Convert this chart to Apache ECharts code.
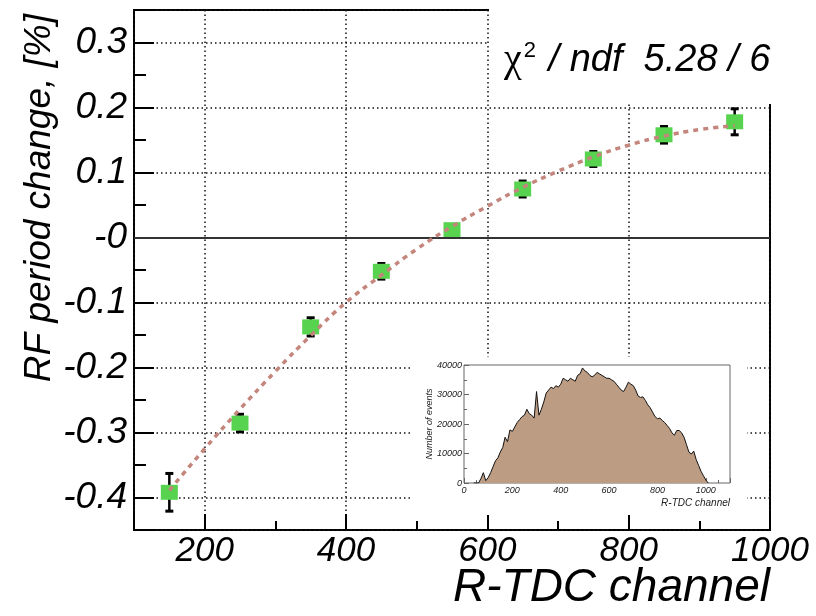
<!DOCTYPE html>
<html>
<head>
<meta charset="utf-8">
<script src="https://cdn.jsdelivr.net/npm/echarts@6/dist/echarts.min.js"></script>
<style>
  html, body { margin: 0; padding: 0; background: #fff; }
  #chart { width: 816px; height: 616px; }
</style>
</head>
<body>
<div id="chart"></div>
<script>
// RF period change measured per R-TDC channel bin
const channels = [150, 250, 350, 450, 550, 650, 750, 850, 950];
const rfChange = [-0.392, -0.2855, -0.1375, -0.052, 0.012, 0.0746, 0.1208, 0.158, 0.178];
const rfError  = [0.029, 0.0135, 0.014, 0.012, 0.005, 0.0123, 0.0115, 0.0128, 0.02];

// pol2 fit curve sampled along the channel range
const fitChannels = [150, 200, 250, 300, 350, 400, 450, 500, 550, 600, 650, 700, 750, 800, 850, 900, 950];
const fitValues   = [-0.389, -0.325, -0.264, -0.206, -0.151, -0.100, -0.058, -0.018, 0.017, 0.048,
                     0.077, 0.102, 0.124, 0.142, 0.156, 0.166, 0.172];

// R-TDC channel occupancy histogram (inset)
const histChannels = [40, 50, 60, 70, 80, 90, 100, 110, 120, 130, 140, 150, 160, 170, 180, 190,
  200, 210, 220, 230, 240, 250, 260, 270, 280, 290, 300, 310, 320, 330, 340, 350, 360, 370, 380, 390,
  400, 410, 420, 430, 440, 450, 460, 470, 480, 490, 500, 510, 520, 530, 540, 550, 560, 570, 580, 590,
  600, 610, 620, 630, 640, 650, 660, 670, 680, 690, 700, 710, 720, 730, 740, 750, 760, 770, 780, 790,
  800, 810, 820, 830, 840, 850, 860, 870, 880, 890, 900, 910, 920, 930, 940, 950, 960, 970, 980, 990,
  1000, 1010];
const histCounts = [0, 0, 0, 1500, 3500, 800, 1800, 3500, 5500, 7500, 8500, 10500, 12000, 15500, 14000, 18000,
  17500, 19000, 20500, 21500, 22500, 23000, 25000, 23500, 23000, 22000, 31000, 23000, 25000, 27500, 30500, 31500, 32500, 32000, 33000, 32500,
  33500, 35500, 35000, 34500, 35500, 35000, 34500, 36500, 37000, 39000, 38000, 37500, 36500, 36000, 36500, 37500, 37000, 36500, 36000, 35500,
  35500, 35000, 34500, 33500, 32500, 31500, 31000, 32500, 34200, 33500, 33000, 31500, 29500, 29000, 29200, 28000, 26500, 25500, 24000, 22500,
  21800, 22000, 21200, 20500, 19500, 18500, 17000, 16200, 17800, 17800, 17000, 15500, 13000, 10500, 9800, 10800, 8000, 6000, 4000, 2500,
  1000, 0];

const FONT = 'Liberation Sans';
const chart = echarts.init(document.getElementById('chart'), null, { renderer: 'canvas' });

const dotted = { color: '#111', width: 1.5, type: [1.5, 3] };

function yLabel(v) {
  const k = Math.round(v * 10);
  if (Math.abs(v * 10 - k) > 1e-6) return '';
  if (k === 0) return '-0';
  return (k / 10).toFixed(1);
}

const option = {
  animation: false,
  backgroundColor: '#fff',
  title: {
    text: '{g|χ}{s|2}{t| / ndf  5.28 / 6}',
    left: 499, top: 35, z: 30,
    textStyle: {
      fontWeight: 'normal',
      rich: {
        g: { fontFamily: 'Liberation Serif', fontSize: 40, fontWeight: 'normal', color: '#000' },
        s: { fontFamily: FONT, fontSize: 22, fontWeight: 'normal', color: '#000', verticalAlign: 'top', padding: [0, 2, 0, 2] },
        t: { fontFamily: FONT, fontSize: 38, fontStyle: 'italic', fontWeight: 'normal', color: '#000' }
      }
    }
  },
  grid: [
    { left: 134, top: 10, width: 636, height: 520, show: true, borderColor: '#000', borderWidth: 2, backgroundColor: 'transparent' },
    { left: 464, top: 365, width: 266, height: 118, show: true, borderColor: '#666', borderWidth: 1, backgroundColor: 'transparent', z: 20 }
  ],
  xAxis: [
    {
      gridIndex: 0, type: 'value', min: 100, max: 1000, splitNumber: 5, position: 'bottom',
      axisLine: { show: false, onZero: false },
      axisTick: { inside: true, length: 16, lineStyle: { color: '#000', width: 2 } },
      axisLabel: { fontFamily: FONT, fontStyle: 'italic', fontSize: 35, color: '#000', margin: 4,
                   formatter: v => (v === 100 ? '' : String(v)) },
      splitLine: { show: true, lineStyle: dotted }
    },
    {
      gridIndex: 0, type: 'value', min: 100, max: 1000, interval: 100, position: 'bottom',
      axisLine: { show: false, onZero: false },
      axisTick: { inside: true, length: 9, lineStyle: { color: '#000', width: 2 } },
      axisLabel: { show: false },
      splitLine: { show: false }
    },
    {
      gridIndex: 1, type: 'value', min: 0, max: 1100, interval: 200, z: 20,
      axisLine: { show: false, onZero: false },
      axisTick: { inside: true, length: 5, lineStyle: { color: '#666' } },
      minorTick: { show: true, splitNumber: 4, length: 3, lineStyle: { color: '#666' } },
      axisLabel: { fontFamily: FONT, fontStyle: 'italic', fontSize: 9, color: '#222', margin: 3,
                   formatter: v => (v > 1000 ? '' : String(v)) },
      splitLine: { show: false }
    }
  ],
  yAxis: [
    {
      gridIndex: 0, type: 'value', min: -0.45, max: 0.35, splitNumber: 8, position: 'left',
      axisLine: { show: false, onZero: false },
      axisTick: { inside: true, length: 20, lineStyle: { color: '#000', width: 2 } },
      axisLabel: { fontFamily: FONT, fontStyle: 'italic', fontSize: 37, color: '#000', margin: 7, formatter: yLabel },
      splitLine: { show: true, lineStyle: dotted }
    },
    {
      gridIndex: 0, type: 'value', min: -0.45, max: 0.35, interval: 0.05, position: 'left',
      axisLine: { show: false, onZero: false },
      axisTick: { inside: true, length: 12, lineStyle: { color: '#000', width: 2 } },
      axisLabel: { show: false },
      splitLine: { show: false }
    },
    {
      gridIndex: 1, type: 'value', min: 0, max: 40000, interval: 10000, z: 20,
      axisLine: { show: false, onZero: false },
      axisTick: { inside: true, length: 5, lineStyle: { color: '#666' } },
      minorTick: { show: true, splitNumber: 2, length: 3, lineStyle: { color: '#666' } },
      axisLabel: { fontFamily: FONT, fontStyle: 'italic', fontSize: 9, color: '#222', margin: 2,
                   formatter: v => String(v) },
      splitLine: { show: false }
    }
  ],
  graphic: [
    // white box behind the fit statistics
    { type: 'rect', z: 10, shape: { x: 489, y: 0, width: 327, height: 104 }, style: { fill: '#fff' } },
    // white pad holding the channel histogram
    { type: 'rect', z: 10, shape: { x: 412, y: 357, width: 335, height: 158 }, style: { fill: '#fff' } },
    {
      type: 'text', z: 12, x: 40, y: 14, rotation: Math.PI / 2,
      style: { text: 'RF period change, [%]', fontFamily: FONT, fontStyle: 'italic', fontSize: 37,
               fill: '#000', textAlign: 'right', textVerticalAlign: 'middle' }
    },
    {
      type: 'text', z: 12, x: 770, y: 588,
      style: { text: 'R-TDC channel', fontFamily: FONT, fontStyle: 'italic', fontSize: 46,
               fill: '#000', textAlign: 'right', textVerticalAlign: 'middle' }
    },
    {
      type: 'text', z: 25, x: 429, y: 424, rotation: Math.PI / 2,
      style: { text: 'Number of events', fontFamily: FONT, fontStyle: 'italic', fontSize: 9,
               fill: '#222', textAlign: 'center', textVerticalAlign: 'middle' }
    },
    {
      type: 'text', z: 25, x: 730, y: 503,
      style: { text: 'R-TDC channel', fontFamily: FONT, fontStyle: 'italic', fontSize: 10,
               fill: '#222', textAlign: 'right', textVerticalAlign: 'middle' }
    }
  ],
  series: [
    {
      name: 'errors', type: 'custom', xAxisIndex: 0, yAxisIndex: 0, z: 3,
      data: channels.map((c, i) => [c, rfChange[i] - rfError[i], rfChange[i] + rfError[i]]),
      encode: { x: 0, y: [1, 2] },
      renderItem: function (params, api) {
        const x = api.value(0);
        const lo = api.coord([x, api.value(1)]);
        const hi = api.coord([x, api.value(2)]);
        return {
          type: 'group',
          children: [
            { type: 'line', shape: { x1: lo[0], y1: lo[1], x2: hi[0], y2: hi[1] }, style: { stroke: '#000', lineWidth: 2.5 } },
            { type: 'rect', shape: { x: lo[0] - 4, y: lo[1] - 1.5, width: 8, height: 3 }, style: { fill: '#000' } },
            { type: 'rect', shape: { x: hi[0] - 4, y: hi[1] - 1.5, width: 8, height: 3 }, style: { fill: '#000' } }
          ]
        };
      },
      markLine: {
        silent: true, symbol: 'none', label: { show: false },
        lineStyle: { color: '#333', width: 2, type: 'solid' },
        data: [{ yAxis: 0 }]
      }
    },
    {
      name: 'points', type: 'scatter', xAxisIndex: 0, yAxisIndex: 0, z: 4,
      symbol: 'rect', symbolSize: [17, 15],
      itemStyle: { color: '#57d34f', opacity: 1 },
      data: channels.map((c, i) => [c, rfChange[i]])
    },
    {
      name: 'fit', type: 'line', xAxisIndex: 0, yAxisIndex: 0, z: 5,
      smooth: true, showSymbol: false,
      lineStyle: { color: '#c4857c', width: 3.5, type: [5, 5] },
      data: fitChannels.map((c, i) => [c, fitValues[i]])
    },
    {
      name: 'occupancy', type: 'line', xAxisIndex: 2, yAxisIndex: 2, z: 21,
      showSymbol: false,
      lineStyle: { color: '#111', width: 1 },
      areaStyle: { color: '#bc9c82', opacity: 1 },
      data: histChannels.map((c, i) => [c, histCounts[i]])
    }
  ]
};

chart.setOption(option);
</script>
</body>
</html>
